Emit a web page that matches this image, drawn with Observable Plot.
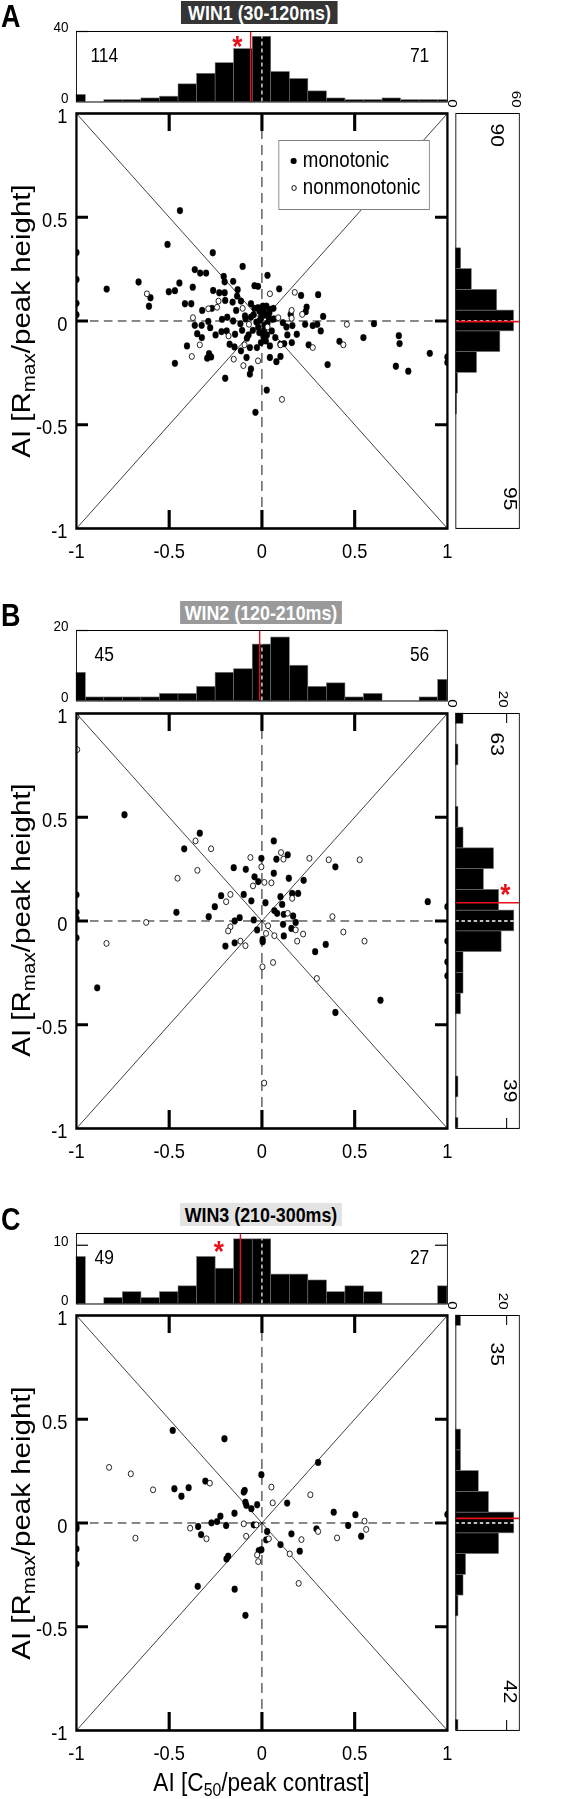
<!DOCTYPE html>
<html><head><meta charset="utf-8">
<script src="https://cdn.jsdelivr.net/npm/d3@7"></script>
<script src="https://cdn.jsdelivr.net/npm/@observablehq/plot@0.6"></script>
<style>
html,body{margin:0;padding:0;background:#fff;overflow:hidden;width:585px;height:1799px;}
#fig{position:relative;width:673px;height:1799px;transform:scaleX(0.87);transform-origin:0 0;font-family:"Liberation Sans",Arial,Helvetica,sans-serif;color:#000;}
#fig svg{position:absolute;}
sub{font-size:0.7em;vertical-align:-0.28em;line-height:0;}
</style></head>
<body><div id="fig"></div>
<script>
// ---------------- data ----------------
const axisDomain = [-1, 1];
const tickValues = [-1, -0.5, 0, 0.5, 1];
const binCenters = [-1,-0.9,-0.8,-0.7,-0.6,-0.5,-0.4,-0.3,-0.2,-0.1,0,0.1,0.2,0.3,0.4,0.5,0.6,0.7,0.8,0.9,1];

const monoA = [[-0.442,0.532],[-0.509,0.369],[-0.265,0.329],[-0.104,0.263],[-0.362,0.248],[-0.333,0.231],[-0.301,0.231],[-0.206,0.215],[0.030,0.220],[-0.665,0.188],[-0.445,0.183],[-0.201,0.189],[-0.155,0.191],[-0.837,0.154],[-0.502,0.141],[-0.469,0.146],[-0.373,0.163],[-0.263,0.147],[-0.230,0.136],[-0.201,0.136],[-0.131,0.151],[-0.040,0.170],[-0.021,0.167],[0.093,0.155],[0.211,0.123],[0.303,0.127],[-0.601,0.112],[-0.609,0.071],[-0.415,0.083],[-0.381,0.083],[-0.198,0.099],[-0.158,0.091],[-0.134,0.120],[-0.113,0.096],[-0.059,0.083],[-0.322,0.051],[-0.270,0.061],[-0.139,0.051],[-0.091,0.024],[-0.040,0.061],[-0.021,0.064],[-0.014,0.048],[0.005,0.072],[0.024,0.072],[0.043,0.056],[0.062,0.061],[-0.003,0.035],[0.021,0.029],[0.037,0.016],[0.065,0.010],[0.155,0.032],[0.241,0.067],[0.236,0.045],[0.330,0.022],[-0.362,-0.021],[-0.325,-0.021],[-0.289,-0.002],[-0.215,0.008],[-0.187,0.018],[-0.155,0.000],[-0.116,-0.013],[-0.088,0.010],[-0.059,0.019],[-0.030,-0.005],[-0.011,0.003],[0.056,0.008],[0.113,-0.008],[0.132,-0.029],[0.164,-0.022],[0.233,-0.016],[0.274,-0.022],[0.298,-0.016],[0.317,-0.048],[0.604,-0.013],[-0.349,-0.061],[-0.324,-0.080],[-0.279,-0.032],[-0.250,-0.067],[-0.190,-0.048],[-0.218,-0.051],[-0.145,-0.064],[-0.107,-0.045],[-0.072,-0.067],[-0.049,-0.045],[-0.014,-0.056],[0.011,-0.048],[0.027,-0.067],[0.053,-0.048],[0.072,-0.080],[0.137,-0.067],[0.188,-0.064],[0.547,-0.080],[0.738,-0.071],[0.742,-0.109],[-0.404,-0.120],[-0.174,-0.112],[-0.148,-0.125],[-0.113,-0.144],[-0.081,-0.083],[-0.065,-0.128],[-0.027,-0.128],[-0.005,-0.104],[0.021,-0.096],[0.043,-0.120],[0.100,-0.112],[0.120,-0.109],[0.161,-0.104],[0.252,-0.115],[0.418,-0.098],[-0.285,-0.157],[-0.274,-0.173],[-0.295,-0.179],[-0.083,-0.176],[0.043,-0.176],[0.078,-0.196],[0.100,-0.171],[-0.469,-0.204],[0.354,-0.210],[0.722,-0.218],[-0.059,-0.231],[-0.065,-0.256],[-0.198,-0.276],[0.789,-0.242],[0.026,-0.333],[-0.035,-0.440],[0.905,-0.156],[0.010,0.050],[-0.005,0.015],[0.015,-0.020],[-0.020,-0.030],[0.030,-0.010],[0.008,-0.075],[-0.045,0.030],[0.040,0.040],[-1,0.33],[-1,0.20],[-1,0.085],[-1,0.03],[1,-0.173],[1,-0.20]];
const nonA = [[-0.620,0.131],[-0.289,0.059],[-0.242,0.066],[-0.234,0.096],[-0.104,0.061],[-0.372,0.016],[0.043,0.131],[0.177,0.138],[0.160,0.051],[0.217,0.032],[0.088,0.016],[0.160,0.013],[0.458,-0.016],[-0.335,-0.115],[-0.180,-0.072],[-0.094,-0.115],[-0.070,-0.016],[0.030,-0.029],[0.100,-0.115],[0.274,-0.128],[0.439,-0.115],[-0.378,-0.171],[-0.152,-0.184],[-0.100,-0.215],[-0.021,-0.192],[0.108,-0.378]];

const monoB = [[-0.741,0.512],[-0.335,0.423],[-0.419,0.348],[0.064,0.386],[-0.003,0.302],[0.078,0.298],[0.139,0.319],[-0.152,0.257],[-0.087,0.249],[-0.040,0.213],[-0.020,0.190],[0.064,0.230],[0.145,0.206],[0.225,0.196],[0.396,0.261],[-0.220,0.122],[-0.098,0.128],[-0.254,0.069],[-0.057,0.097],[0.019,0.088],[-0.461,0.042],[-0.287,0.021],[-0.147,0.000],[-0.120,0.016],[-0.044,0.005],[0.067,0.050],[0.082,0.037],[0.100,0.117],[0.109,0.080],[0.118,0.032],[0.163,0.133],[0.195,0.133],[0.168,0.024],[0.182,-0.007],[0.114,-0.016],[-0.026,-0.043],[0.159,-0.036],[0.118,-0.072],[0.004,-0.089],[0.004,-0.100],[-0.147,-0.105],[-0.197,-0.121],[0.344,-0.113],[0.287,-0.148],[0.894,0.093],[-0.888,-0.322],[0.639,-0.382],[0.396,-0.441],[-1,0.126],[-1,0.042],[-1,0.013],[-1,-0.081],[1,0.069],[1,-0.097],[1,-0.197],[1,-0.264]];
const nonB = [[-1,0.984],[-0.996,0.826],[-0.358,0.386],[-0.274,0.348],[-0.348,0.244],[-0.455,0.206],[-0.062,0.306],[-0.003,0.261],[0.103,0.330],[0.116,0.298],[0.256,0.302],[0.360,0.295],[0.527,0.295],[-0.048,0.169],[0.013,0.186],[0.051,0.184],[-0.170,0.128],[-0.193,0.093],[-0.624,-0.007],[-0.838,-0.108],[-0.170,-0.028],[-0.182,-0.048],[-0.116,-0.097],[-0.089,-0.119],[0.033,-0.023],[0.022,-0.060],[0.067,-0.071],[0.139,0.037],[0.163,0.109],[0.182,-0.043],[0.190,-0.097],[0.222,-0.063],[0.380,0.021],[0.439,-0.053],[0.553,-0.097],[0.003,-0.221],[0.060,-0.200],[0.296,-0.277],[0.012,-0.781]];

const monoC = [[-0.481,0.446],[-0.202,0.406],[0.303,0.292],[-0.003,0.233],[-0.305,0.202],[-0.472,0.165],[-0.395,0.170],[-0.093,0.157],[-0.434,0.129],[-0.098,0.149],[-0.089,0.100],[-0.084,0.085],[-0.057,0.069],[-0.026,0.088],[0.136,0.096],[-0.148,0.047],[-0.224,0.033],[-0.242,0.007],[-0.272,0.001],[-0.193,-0.012],[-0.344,-0.017],[-0.328,-0.056],[-0.044,-0.009],[0.028,-0.041],[0.023,-0.081],[0.100,-0.104],[0.159,-0.052],[-0.003,-0.129],[-0.017,-0.133],[-0.182,-0.160],[-0.191,-0.173],[0.204,-0.136],[0.294,-0.028],[0.387,0.052],[0.504,0.040],[0.465,-0.012],[0.535,-0.064],[-0.346,-0.305],[-0.147,-0.319],[-0.089,-0.445],[-1,-0.017],[-1,-0.028],[-1,-0.125],[-1,-0.197],[1,0.041]];
const nonC = [[-0.824,0.268],[-0.707,0.237],[-0.587,0.160],[-0.281,0.192],[0.051,0.173],[-0.682,-0.073],[-0.387,-0.025],[-0.299,-0.076],[-0.098,-0.004],[-0.030,-0.009],[-0.085,-0.064],[0.058,0.097],[0.037,-0.076],[-0.026,-0.154],[-0.020,-0.186],[0.150,-0.149],[0.213,-0.080],[0.198,-0.291],[0.261,0.136],[0.303,-0.041],[0.405,-0.072],[0.553,0.009],[0.562,-0.031]];

// histogram counts (bins centred on binCenters)
const topCountsA   = [4,0,1,1,2,3,10,16,22,30,37,17,13,6,2,1,1,2,1,1,1];
const rightCountsA = [0,0,0,0,0,0,1,2,20,42,55,39,15,5,0,0,0,0,0,0,0];
const topCountsB   = [8,1,1,1,1,2,2,4,8,9,16,18,10,4,5,1,2,0,0,1,6];
const rightCountsB = [1,0,1,0,0,0,2,3,3,18,23,17,11,15,3,1,0,0,1,0,3];
const topCountsC   = [8,0,1,2,1,2,3,8,6,11,11,5,5,4,2,3,2,0,0,0,3];
const rightCountsC = [1,0,0,0,0,0,1,3,4,17,23,13,9,2,2,0,0,0,0,0,2];

const medianTop   = [-0.061, -0.012, -0.116];
const medianRight = [-0.003, 0.088, 0.022];
const countLeft   = ["114", "45", "49"];
const countRight  = ["71", "56", "27"];
const countAbove  = ["90", "63", "35"];
const countBelow  = ["95", "39", "42"];
const topTicksA = [0, 40], topTicksB = [0, 20], topTicksC = [0, 10];
const rightTicksA = [0, 60], rightTicksB = [0, 20], rightTicksC = [0, 20];
const titles = ["WIN1 (30-120ms)", "WIN2 (120-210ms)", "WIN3 (210-300ms)"];
const letters = ["A", "B", "C"];
const legendLabels = ["monotonic", "nonmonotonic"];
const yLabelHTML = 'AI [R<sub>max</sub>/peak height]';
const xLabelHTML = 'AI [C<sub>50</sub>/peak contrast]';

// ---------------- layout ----------------
const K = 0.87;                // horizontal squeeze of the original figure
const ux = x => x / K;
const FONT = '"Liberation Sans", Arial, Helvetica, sans-serif';
const fig = document.getElementById("fig");
const R_MONO = 3.4, R_NON = 2.95;

const panels = [
  {top: 0,    mono: monoA, non: nonA, tc: topCountsA, rc: rightCountsA, tMax: 40, tTicks: topTicksA, rMax: 60, rTicks: rightTicksA,
   titleBg: "#353535", titleFg: "#fff", tl: 181, tw: 157, legend: true, xLabel: false,
   star: {where: "top", x: -0.132, dy: 3}, dyAbove: 10, dyBelow: 18, letterTop: 1},
  {top: 599.5, mono: monoB, non: nonB, tc: topCountsB, rc: rightCountsB, tMax: 20, tTicks: topTicksB, rMax: 25, rTicks: rightTicksB,
   titleBg: "#9a9a9a", titleFg: "#fff", tl: 180, tw: 162, legend: false, xLabel: false,
   star: {where: "right", dx: -9, dy: -8}, dyAbove: 19, dyBelow: 26, letterTop: 0},
  {top: 1202, mono: monoC, non: nonC, tc: topCountsC, rc: rightCountsC, tMax: 12, tTicks: topTicksC, rMax: 25, rTicks: rightTicksC,
   titleBg: "#e3e3e3", titleFg: "#000", tl: 180, tw: 162, legend: false, xLabel: true,
   star: {where: "top", x: -0.233, dy: 6}, dyAbove: 27, dyBelow: 27, letterTop: 2}
];

const FRAME_L = 76, FRAME_R = 447, MAIN_T = 113, MAIN_H = 415, TOP_T = 30.5, TOP_H = 70.5, RH_L = 455, RH_R = 518.5;
const binHalf = 0.05;
const rows = counts => binCenters.map((c, i) => ({lo: Math.max(axisDomain[0], c - binHalf), hi: Math.min(axisDomain[1], c + binHalf), n: counts[i]})).filter(d => d.n > 0);
const centerCount = counts => counts[binCenters.indexOf(0)];
const baseStyle = {fontFamily: FONT, background: "transparent", color: "black", overflow: "visible"};

function put(el, left, top) { el.style.left = left + "px"; el.style.top = top + "px"; fig.appendChild(el); }
function div(html, css) { const d = document.createElement("div"); d.innerHTML = html; d.style.cssText = "position:absolute;white-space:nowrap;" + css; return d; }

panels.forEach((p, i) => {
  const innerW = ux(FRAME_R) - ux(FRAME_L);

  // ---- top histogram ----
  const tmt = 8, tmb = 2;
  const topHist = Plot.plot({
    width: ux(FRAME_R + 2), height: tmt + TOP_H + tmb,
    marginLeft: ux(FRAME_L), marginRight: ux(2), marginTop: tmt, marginBottom: tmb,
    x: {domain: axisDomain, axis: null}, y: {domain: [0, p.tMax], axis: null},
    style: {...baseStyle, fontSize: "15px"},
    marks: [
      Plot.rectY(rows(p.tc), {x1: "lo", x2: "hi", y1: 0, y2: "n", fill: "black", stroke: "#777", strokeWidth: 0.6}),
      Plot.ruleX([0], {y1: 0, y2: centerCount(p.tc), stroke: "white", strokeWidth: 1.4, strokeDasharray: "4,3"}),
      Plot.ruleX([medianTop[i]], {stroke: "#e8101a", strokeWidth: 1.6}),
      Plot.tickY(p.tTicks.filter(v => v > 0), {y: d => d, insetRight: innerW - ux(12), strokeWidth: 1.2}),
      Plot.tickY(p.tTicks.filter(v => v > 0), {y: d => d, insetLeft: innerW - ux(12), strokeWidth: 1.2}),
      Plot.frame({stroke: "black", strokeWidth: 1}),
      Plot.axisY({ticks: p.tTicks, tickSize: 0, tickPadding: ux(8), tickFormat: d => String(d), fontSize: 15.5, dy: -4, label: null}),
      Plot.text([countLeft[i]], {x: -0.85, frameAnchor: "top", dy: 16, fontSize: 20}),
      Plot.text([countRight[i]], {x: 0.85, frameAnchor: "top", dy: 16, fontSize: 20}),
      p.star.where === "top" ? Plot.text(["*"], {x: p.star.x, frameAnchor: "top", dy: p.star.dy, fontSize: 30, fontWeight: "bold", fill: "#e8101a"}) : null
    ]
  });
  put(topHist, 0, p.top + TOP_T - tmt);

  // ---- main scatter ----
  const mt = 10, mb = p.xLabel ? 80 : 40;
  const innerTicks = tickValues.filter(v => v > axisDomain[0] && v < axisDomain[1]);
  const main = Plot.plot({
    width: ux(FRAME_R + 3), height: mt + MAIN_H + mb,
    marginLeft: ux(FRAME_L), marginRight: ux(3), marginTop: mt, marginBottom: mb,
    x: {domain: axisDomain}, y: {domain: axisDomain},
    style: {...baseStyle, fontSize: "21px"},
    marks: [
      Plot.line(axisDomain.map(v => [v, v]), {stroke: "black", strokeWidth: 0.8}),
      Plot.line(axisDomain.map(v => [v, -v]), {stroke: "black", strokeWidth: 0.8}),
      Plot.ruleX([0], {stroke: "black", strokeWidth: 1, strokeDasharray: "10,6"}),
      Plot.ruleY([0], {stroke: "black", strokeWidth: 1, strokeDasharray: "10,6"}),
      Plot.dot(p.mono, {x: d => d[0], y: d => d[1], r: R_MONO, fill: "black", stroke: "black", strokeWidth: 0.3, clip: true}),
      Plot.dot(p.non, {x: d => d[0], y: d => d[1], r: R_NON, fill: "white", stroke: "black", strokeWidth: 0.9, clip: true}),
      Plot.tickX(innerTicks, {x: d => d, insetBottom: MAIN_H - 18, strokeWidth: 3.6}),
      Plot.tickX(innerTicks, {x: d => d, insetTop: MAIN_H - 18, strokeWidth: 3.6}),
      Plot.tickY(innerTicks, {y: d => d, insetRight: innerW - ux(12), strokeWidth: 3}),
      Plot.tickY(innerTicks, {y: d => d, insetLeft: innerW - ux(12), strokeWidth: 3}),
      Plot.frame({stroke: "black", strokeWidth: 2.6}),
      Plot.axisX({ticks: tickValues, tickSize: 0, tickPadding: 15, tickFormat: d => String(d), fontSize: 21, label: null}),
      Plot.axisY({ticks: tickValues, tickSize: 0, tickPadding: ux(9), tickFormat: d => String(d), fontSize: 21, dy: 3, label: null})
    ]
  });
  put(main, 0, p.top + MAIN_T - mt);

  // ---- right histogram ----
  const rmt = 28, rmb = 12;
  const rightHist = Plot.plot({
    width: ux(3) + ux(RH_R - RH_L) + ux(3), height: rmt + MAIN_H + rmb,
    marginLeft: ux(3), marginRight: ux(3), marginTop: rmt, marginBottom: rmb,
    x: {domain: [0, p.rMax], axis: null}, y: {domain: axisDomain, axis: null},
    style: {...baseStyle, fontSize: "15px"},
    marks: [
      Plot.rectX(rows(p.rc), {y1: "lo", y2: "hi", x1: 0, x2: "n", fill: "black", stroke: "#777", strokeWidth: 0.6}),
      Plot.ruleY([0], {x1: 0, x2: centerCount(p.rc), stroke: "white", strokeWidth: 1.4, strokeDasharray: "4,3"}),
      Plot.ruleY([medianRight[i]], {stroke: "#e8101a", strokeWidth: 1.6}),
      Plot.tickX(p.rTicks.filter(v => v > 0 && v < p.rMax), {x: d => d, insetBottom: MAIN_H - 10, strokeWidth: 1.2}),
      Plot.tickX(p.rTicks.filter(v => v > 0 && v < p.rMax), {x: d => d, insetTop: MAIN_H - 10, strokeWidth: 1.2}),
      Plot.frame({stroke: "black", strokeWidth: 1}),
      Plot.text(p.rTicks, {x: d => d, text: d => String(d), frameAnchor: "top", dy: -6, dx: 2, rotate: 90, textAnchor: "end", fontSize: 15}),
      Plot.text([countAbove[i]], {frameAnchor: "top-right", dx: -ux(15), dy: p.dyAbove, rotate: 90, textAnchor: "start", fontSize: 21}),
      Plot.text([countBelow[i]], {frameAnchor: "bottom-right", dx: -ux(15), dy: -p.dyBelow, rotate: 90, textAnchor: "end", fontSize: 21}),
      p.star.where === "right" ? Plot.text(["*"], {y: medianRight[i], frameAnchor: "right", dx: ux(p.star.dx), dy: p.star.dy, fontSize: 30, fontWeight: "bold", fill: "#e8101a"}) : null
    ]
  });
  put(rightHist, ux(RH_L) - ux(3), p.top + MAIN_T - rmt);

  // ---- text furniture ----
  put(div(letters[i], "font-size:31px;font-weight:bold;line-height:31px;"), ux(1), p.top + p.letterTop);
  put(div(titles[i], `width:${ux(p.tw)}px;height:23px;line-height:23px;text-align:center;font-size:20.5px;font-weight:bold;background:${p.titleBg};color:${p.titleFg};`), ux(p.tl), p.top + 1);
  put(div(yLabelHTML, "font-size:29.5px;line-height:29.5px;transform:translate(-50%,-50%) rotate(-90deg);"), ux(21), p.top + MAIN_T + MAIN_H / 2);
  if (p.xLabel) put(div(xLabelHTML, "font-size:26px;line-height:26px;transform:translate(-50%,-50%);"), ux(261.5), p.top + 580);

  if (p.legend) {
    const leg = div("", `width:${ux(152)}px;height:70px;border:1px solid #808080;background:#fff;box-sizing:border-box;`);
    legendLabels.forEach((lab, j) => {
      const cy = j === 0 ? 20 : 47;
      const rr = j === 0 ? R_MONO : R_NON;
      const dot = div("", `width:${2 * rr}px;height:${2 * rr}px;border-radius:50%;box-sizing:border-box;` +
        (j === 0 ? "background:#000;" : "background:#fff;border:0.9px solid #000;"));
      dot.style.left = (ux(15) - rr) + "px"; dot.style.top = (cy - rr) + "px";
      leg.appendChild(dot);
      const t = div(lab, "font-size:21.5px;line-height:24px;");
      t.style.left = ux(24) + "px"; t.style.top = (cy - 13) + "px";
      leg.appendChild(t);
    });
    put(leg, ux(278), p.top + 140);
  }
});
</script>
</body></html>
